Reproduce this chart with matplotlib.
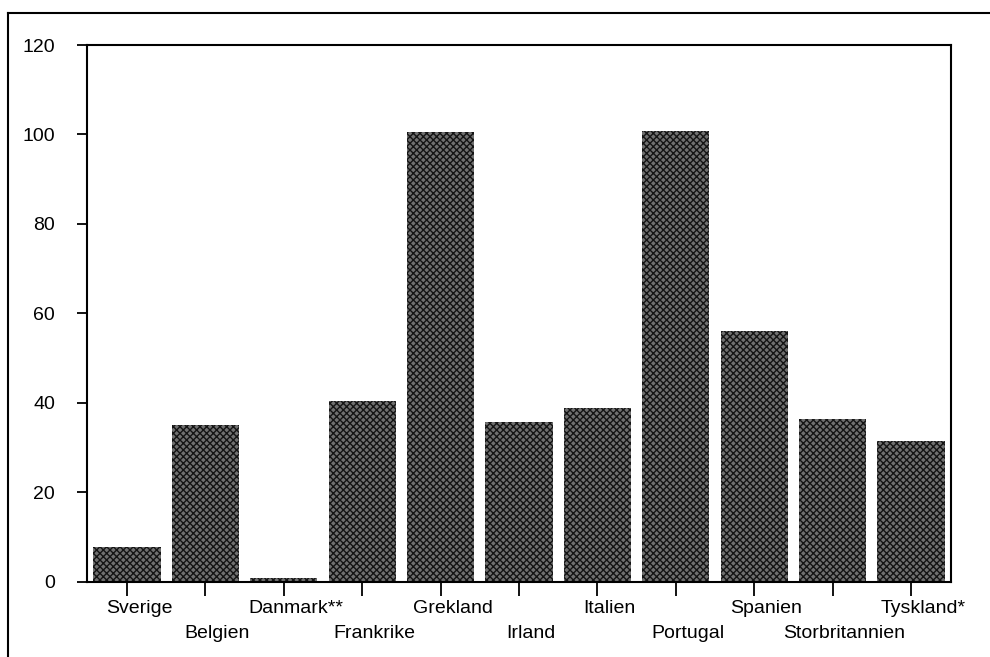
import matplotlib
matplotlib.use("Agg")
import matplotlib.pyplot as plt
import matplotlib.transforms as mtransforms
from matplotlib.lines import Line2D

# Data
lander = ["Sverige", "Belgien", "Danmark**", "Frankrike", "Grekland", "Irland",
          "Italien", "Portugal", "Spanien", "Storbritannien", "Tyskland*"]
varden = [7.8, 35.1, 0.9, 40.4, 100.5, 35.8, 38.9, 100.8, 56.1, 36.4, 31.5]
y_ticks = [0, 20, 40, 60, 80, 100, 120]

plt.rcParams['font.family'] = ['Liberation Sans', 'DejaVu Sans']
plt.rcParams['hatch.linewidth'] = 1.0

fig = plt.figure(figsize=(9.9, 6.57), dpi=100)
ax = fig.add_axes([0.0879, 0.1142, 0.8727, 0.8173])

x = list(range(len(lander)))
ax.bar(x, varden, width=0.855, color='#707070', edgecolor='#141414',
       hatch='xxxxx', linewidth=0)

ax.set_xlim(-0.51, 10.51)
ax.set_ylim(0, 120)
ax.set_yticks(y_ticks)
ax.set_yticklabels([str(t) for t in y_ticks], fontsize=14)
ax.set_xticks(x)
ax.set_xticklabels([])
ax.tick_params(axis='y', direction='out', length=7, width=1.3, pad=16)
ax.tick_params(axis='x', direction='out', length=10, width=1.3)
for s in ax.spines.values():
    s.set_linewidth(1.5)

# Etiketter i två rader, lite förskjutna åt höger
offset = mtransforms.ScaledTranslation(12 / 100, 0, fig.dpi_scale_trans)
trans = mtransforms.blended_transform_factory(ax.transData, fig.transFigure) + offset
for i, namn in enumerate(lander):
    y = 1 - 600 / 657 if i % 2 == 0 else 1 - 625 / 657
    ax.text(i, y, namn, transform=trans, ha='center', va='top', fontsize=14)

# Yttre ram
fig.add_artist(Line2D([8 / 990, 1.0], [1 - 13 / 657, 1 - 13 / 657],
                      transform=fig.transFigure, color='black', linewidth=1.5))
fig.add_artist(Line2D([8 / 990, 8 / 990], [1 - 13 / 657, 0],
                      transform=fig.transFigure, color='black', linewidth=1.5))

fig.savefig("out.png", dpi=100)
